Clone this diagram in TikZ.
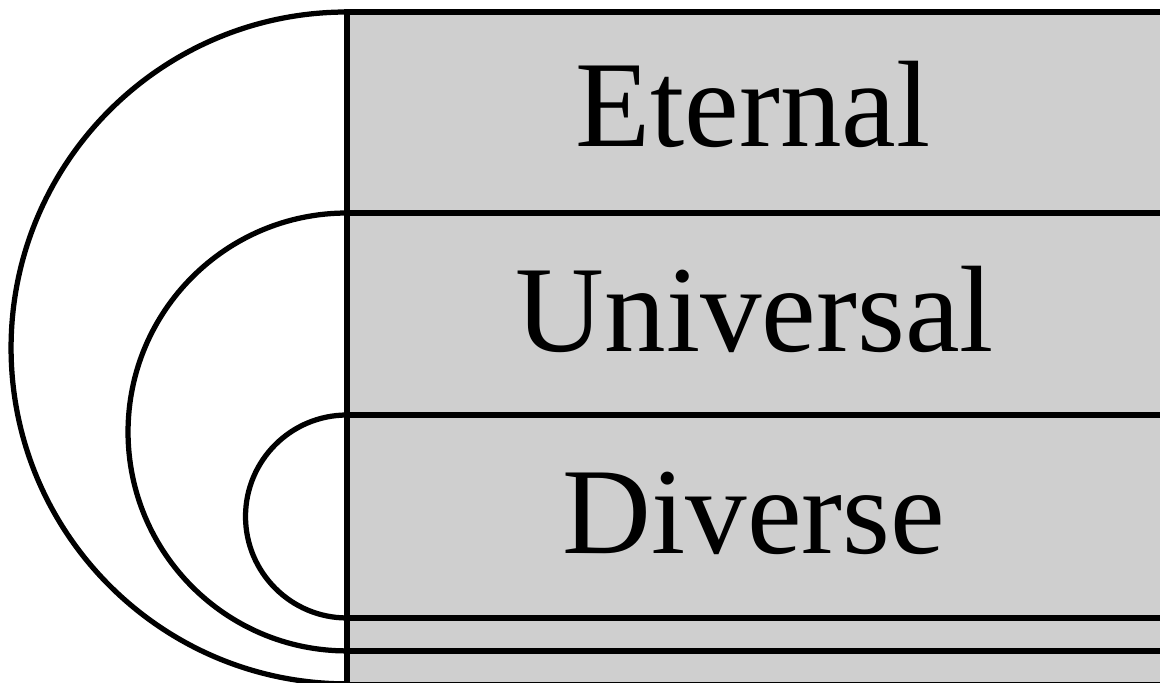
\documentclass[tikz,border=0pt]{standalone}
\usepackage{fontspec}
\setmainfont{Liberation Serif}
\usetikzlibrary{positioning}

\begin{document}
\begin{tikzpicture}[x=0.02cm, y=-0.02cm, line width=0.105cm,
  every node/.style={font=\fontsize{70}{82}\selectfont, anchor=base}]
\useasboundingbox (0,0) rectangle (1160,683);
\fill[black!19] (347,12) rectangle (1170,690);
% band borders
\draw (1170,12) -- (347,12) -- (347,690);
\foreach \yy in {213,415,618,651,685}
  \draw (347,\yy) -- (1170,\yy);
% labels
\node (eternal) at (753,146) {Eternal};
\node (universal) at (755,351) {Universal};
\node (diverse) at (754,553) {Diverse};
% arc ends
\coordinate (outerTop) at (347,12);
\coordinate (middleTop) at (347,213);
\coordinate (innerTop) at (347,415);
\draw (outerTop) arc[start angle=90, end angle=270, radius=6.72cm];
\draw (middleTop) arc[start angle=90, end angle=270, radius=4.38cm];
\draw (innerTop) arc[start angle=90, end angle=270, radius=2.03cm];
\end{tikzpicture}
\end{document}
